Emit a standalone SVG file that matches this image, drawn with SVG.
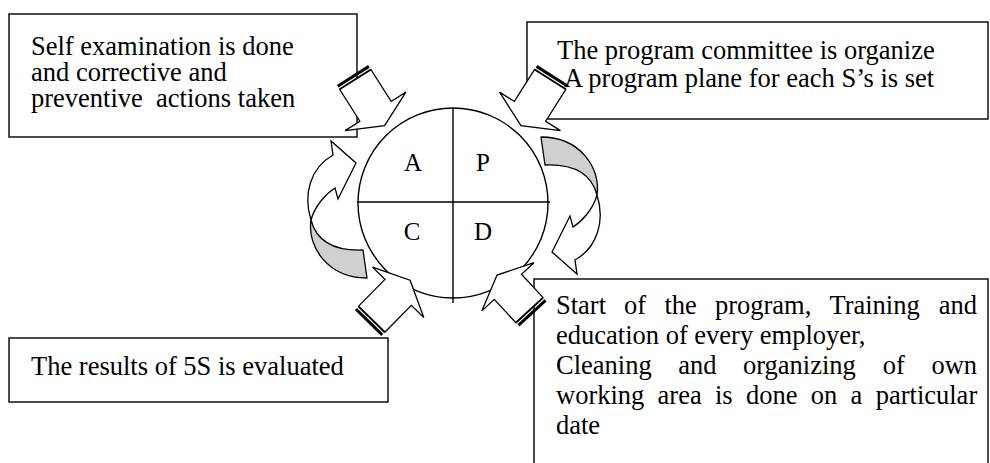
<svg xmlns="http://www.w3.org/2000/svg" width="990" height="463" viewBox="0 0 990 463">
<style>
.box{fill:#fff;stroke:#000;stroke-width:1.4}
.t{font-family:"Liberation Serif","Times New Roman",serif;font-size:26.5px;fill:#000}
.pre{white-space:pre}
.q{font-family:"Liberation Serif","Times New Roman",serif;font-size:25px;text-anchor:middle;fill:#000}
.ln{stroke:#000;stroke-width:1.4;fill:none}
.arr{fill:#fff;stroke:#000;stroke-width:1.3;stroke-linejoin:miter}
.gry{fill:#d0d0d0;stroke:#000;stroke-width:1.3;stroke-linejoin:round}
.stripe{fill:#000}
</style>
<defs>
  <g id="sa">
    <rect class="stripe" x="0" y="-18.5" width="3" height="37"/>
    <rect class="stripe" x="4.2" y="-18.5" width="1.5" height="37"/>
    <polygon class="arr" points="5.5,-18.5 43,-18.5 43,-36 60,0 43,36 43,18.5 5.5,18.5"/>
  </g>
  <g id="curv">
    <path class="gry" d="M363,250 C337,251 317,243 311,220 C307,247 328,278 367,278 Z"/>
    <path class="arr" d="M311,220 C303,195 310,168 333,155 L331,141 L356,163 L338,199 L335,188 C327,193 315,205 311,220 Z"/>
  </g>
</defs>
<rect width="990" height="463" fill="#fff"/>

<g id="node-act">
  <rect class="box" x="9" y="14" width="348" height="123"/>
  <text class="t"><tspan x="31" y="55">Self examination is done</tspan><tspan x="31" y="81">and corrective and</tspan><tspan x="31" y="107" class="pre">preventive  actions taken</tspan></text>
</g>
<g id="node-plan">
  <rect class="box" x="527" y="22" width="461" height="97"/>
  <text class="t"><tspan x="557" y="59">The program committee is organize</tspan><tspan x="564" y="87">A program plane for each S’s is set</tspan></text>
</g>
<g id="node-check">
  <rect class="box" x="9" y="338" width="379" height="64"/>
  <text class="t" x="31" y="375">The results of 5S is evaluated</text>
</g>
<g id="node-do">
  <rect class="box" x="534" y="279" width="454" height="200"/>
  <text class="t">
    <tspan x="556" y="314">Start</tspan><tspan x="624" y="314">of</tspan><tspan x="664.4" y="314">the</tspan><tspan x="714.9" y="314">program,</tspan><tspan x="829.4" y="314">Training</tspan><tspan x="938.8" y="314">and</tspan>
    <tspan x="556" y="344">education of every employer,</tspan>
    <tspan x="556" y="374">Cleaning</tspan><tspan x="678.2" y="374">and</tspan><tspan x="743" y="374">organizing</tspan><tspan x="882.8" y="374">of</tspan><tspan x="931.4" y="374">own</tspan>
    <tspan x="556" y="404">working</tspan><tspan x="657.6" y="404">area</tspan><tspan x="715" y="404">is</tspan><tspan x="746" y="404">done</tspan><tspan x="810.8" y="404">on</tspan><tspan x="850.6" y="404">a</tspan><tspan x="875.7" y="404">particular</tspan>
    <tspan x="556" y="434">date</tspan>
  </text>
</g>
<g id="node-pdca">
  <circle cx="453" cy="203" r="95" fill="#fff" stroke="#000" stroke-width="1.4"/>
  <line class="ln" x1="357" y1="202" x2="550" y2="202"/>
  <line class="ln" x1="453" y1="108" x2="453" y2="303"/>
  <text class="q" x="413" y="171">A</text>
  <text class="q" x="483" y="171">P</text>
  <text class="q" x="412" y="240">C</text>
  <text class="q" x="483" y="240">D</text>
</g>
<g id="connectors">
  <use href="#sa" transform="translate(352.5,75) rotate(57.7)"/>
  <use href="#sa" transform="translate(553,75) rotate(122.3)"/>
  <use href="#sa" transform="translate(368,323) rotate(-45.5)"/>
  <g transform="translate(533,314) rotate(-132.7)">
    <rect class="stripe" x="0" y="-18.5" width="3" height="37"/>
    <rect class="stripe" x="4.2" y="-18.5" width="1.5" height="37"/>
    <polygon class="arr" points="5.5,-18.5 37,-18.5 37,-35.5 53,0 37,35.5 37,18.5 5.5,18.5"/>
  </g>
  <use href="#curv"/>
  <use href="#curv" transform="rotate(180 454 207.5)"/>
</g>
</svg>
